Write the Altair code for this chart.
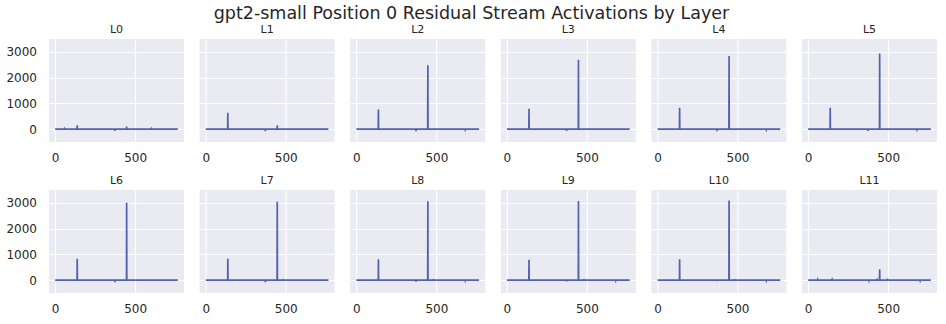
import altair as alt
import pandas as pd

# ---- data ----
layers = ["L0", "L1", "L2", "L3", "L4", "L5", "L6", "L7", "L8", "L9", "L10", "L11"]
n_dims = 768

# spike positions (residual dimension) and values for each layer
spike_idx = {
    "L0": [60, 138, 373, 447, 600, 680],
    "L1": [138, 373, 447, 680],
    "L2": [138, 373, 447, 680],
    "L3": [138, 373, 447, 680],
    "L4": [138, 373, 447, 680],
    "L5": [138, 373, 447, 680],
    "L6": [138, 373, 447, 680],
    "L7": [138, 373, 447, 480, 680],
    "L8": [138, 373, 447, 480, 680],
    "L9": [138, 373, 447, 480, 680],
    "L10": [138, 373, 447, 480, 680],
    "L11": [60, 100, 150, 380, 430, 447, 496, 700],
}
spike_vals = {
    "L0": [15, 150, -70, 100, 15, -30],
    "L1": [640, -80, 150, -30],
    "L2": [760, -80, 2480, -20],
    "L3": [790, -70, 2690, -25],
    "L4": [830, -80, 2840, -20],
    "L5": [830, -70, 2940, -20],
    "L6": [830, -80, 3000, -30],
    "L7": [830, -80, 3040, 40, -25],
    "L8": [810, -60, 3060, 40, -20],
    "L9": [790, -50, 3070, 40, -20],
    "L10": [810, -40, 3090, 40, -20],
    "L11": [20, 25, 20, -20, 60, 420, 60, -20],
}

title_text = "gpt2-small Position 0 Residual Stream Activations by Layer"
x_ticks = [0, 500]
y_ticks = [0, 1000, 2000, 3000]

rows = []
for name in layers:
    pts = {0: 0.0, n_dims - 1: 0.0}
    for i, v in zip(spike_idx[name], spike_vals[name]):
        pts.setdefault(i - 1, 0.0)
        pts[i] = float(v)
        pts.setdefault(i + 1, 0.0)
    for k in sorted(pts):
        rows.append({"layer": name, "dim": k, "value": pts[k]})
df = pd.DataFrame(rows)

LINE = "#5263ad"
TXT = "#262626"


def panel(k, name):
    show_y = (k % 6 == 0)
    yaxis = alt.Axis(
        values=y_ticks, title=None, labels=show_y, labelPadding=12.5 if show_y else 0,
        grid=True, format="d",
    )
    return (
        alt.Chart(df, title=alt.TitleParams(name, fontSize=11, font="DejaVu Sans",
                                            color=TXT, fontWeight="normal", offset=4,
                                            anchor="middle"))
        .transform_filter(alt.datum.layer == name)
        .mark_line(color=LINE, strokeWidth=1.7)
        .encode(
            x=alt.X("dim:Q", scale=alt.Scale(domain=[-38.35, 805.35], nice=False, zero=False),
                    axis=alt.Axis(values=x_ticks, title=None, labelPadding=10, format="d")),
            y=alt.Y("value:Q", scale=alt.Scale(domain=[-500, 3500], nice=False, zero=False),
                    axis=yaxis),
        )
        .properties(width=135, height=103)
    )


row1 = alt.hconcat(*[panel(k, layers[k]) for k in range(6)], spacing=15.6)
row2 = alt.hconcat(*[panel(k, layers[k]) for k in range(6, 12)], spacing=15.6)

chart = (
    alt.vconcat(row1, row2, spacing=12)
    .properties(
        title=alt.TitleParams(title_text, fontSize=17.5, font="DejaVu Sans", color=TXT,
                              fontWeight="normal", anchor="middle", offset=2),
        padding={"left": 5, "top": 4, "right": 5, "bottom": 5},
        background="white",
    )
    .configure_view(fill="#EAEAF2", stroke=None)
    .configure_axis(
        gridColor="white", gridWidth=1.1, domain=False, ticks=False,
        labelFont="DejaVu Sans", labelFontSize=12, labelColor=TXT,
    )
)

chart.save("out.html", embed_options={"renderer": "svg", "actions": False})
